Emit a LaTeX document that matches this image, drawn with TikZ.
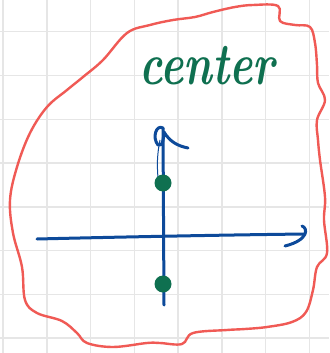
\documentclass[tikz,border=0pt]{standalone}
\usepackage{tikz}
\definecolor{gridc}{HTML}{E6E6E6}
\definecolor{blobred}{HTML}{F05A55}
\definecolor{axisblue}{HTML}{0D4A9A}
\definecolor{dotgreen}{HTML}{0F7050}
\tikzset{
  gridline/.style={gridc, line width=1.4pt},
  blob/.style={blobred, line width=2.4pt, line join=round},
  axisline/.style={axisblue, line width=3pt, line cap=round, line join=round},
  dotnode/.style={circle, fill=dotgreen, inner sep=0pt, minimum size=17pt},
  handtext/.style={text=dotgreen, font=\fontsize{44}{44}\selectfont\itshape\bfseries}
}
\begin{document}
\begin{tikzpicture}[x=1pt,y=-1pt]
\fill[white] (0,0) rectangle (329,353);
\useasboundingbox (0,0) rectangle (329,353);
% grid
\foreach \gx in {3,46.8,90.5,134.3,178,221.8,265.5,309.3}
  \draw[gridline] (\gx,0) -- (\gx,353);
\foreach \gy in {31.7,75.5,119.3,163,206.8,250.5,294.3,338}
  \draw[gridline] (0,\gy) -- (329,\gy);
% red blob
\draw[blob] plot[smooth cycle, tension=0.6] coordinates {
 (127,33) (150,25) (173,20) (195,17) (213,12) (235,7) (253,5) (278,6)
 (280,21) (295,25) (310,27) (315,43) (317,65) (318,83) (325,100)
 (317,120) (318,140) (320,160) (325,197) (324,220) (327,253)
 (317,267) (313,290) (306,312) (292,322) (267,327) (245,329) (227,330)
 (193,333) (182,344) (160,343) (147,343) (113,347) (87,343) (77,333)
 (62,321) (37,313) (25,300) (22,267) (13,233) (10,200) (17,167)
 (30,133) (47,107) (67,90) (83,77) (103,60)};
% text
\node[handtext, yscale=1.35] (lbl) at (207,66) {center};
% axes
\coordinate (xl) at (37,239);
\coordinate (xr) at (305,234);
\coordinate (yb) at (164,305);
\coordinate (yt) at (163,128);
\draw[axisline] (xl) .. controls (120,237) and (220,235) .. (xr);
\draw[axisline] (xr) ++(-3,-8) .. controls (308,228) and (309,240) .. (285,246);
\draw[axisline] (yb) -- (yt);
\draw[axisline] (yt) .. controls (156,124) and (152,138) .. (158,145)
  .. controls (163,148) and (164,135) .. (164,132)
  .. controls (170,142) and (178,146) .. (188,148);
\draw[axisblue, line width=1pt] (160,140) .. controls (157,155) and (157,165) .. (158,178);
% dots
\node[dotnode] (d1) at (163,183) {};
\node[dotnode] (d2) at (163,284) {};
\end{tikzpicture}
\end{document}
